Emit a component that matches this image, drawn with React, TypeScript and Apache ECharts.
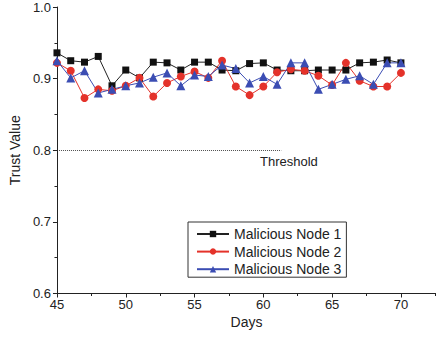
import React, { useEffect, useRef } from "react";
import * as echarts from "echarts";

const days = [45,46,47,48,49,50,51,52,53,54,55,56,57,58,59,60,61,62,63,64,65,66,67,68,69,70];
const node1 = [0.936,0.925,0.923,0.931,0.890,0.912,0.901,0.923,0.922,0.912,0.923,0.923,0.912,0.911,0.921,0.922,0.912,0.911,0.911,0.912,0.912,0.912,0.922,0.923,0.926,0.922];
const node2 = [0.922,0.911,0.873,0.885,0.883,0.890,0.901,0.875,0.894,0.903,0.910,0.901,0.925,0.889,0.877,0.889,0.909,0.913,0.911,0.904,0.891,0.922,0.897,0.889,0.889,0.908];
const node3 = [0.925,0.901,0.911,0.880,0.885,0.890,0.894,0.902,0.908,0.890,0.905,0.903,0.919,0.914,0.894,0.903,0.892,0.922,0.922,0.885,0.892,0.899,0.904,0.892,0.922,0.922];
const seriesNames = ["Malicious Node 1", "Malicious Node 2", "Malicious Node 3"];
const xMajorTicks = [45, 50, 55, 60, 65, 70];
const xMinorTicks = [47.5, 52.5, 57.5, 62.5, 67.5, 72.5];
const thresholdValue = 0.8;
const thresholdStart = 45;
const thresholdEnd = 61.3;
const thresholdLabel = "Threshold";
const xTitle = "Days";
const yTitle = "Trust Value";

const FONT = "Liberation Sans, Arial, sans-serif";

export default function App() {
  const ref = useRef<HTMLDivElement>(null);
  useEffect(() => {
    if (!ref.current) return;
    const chart = echarts.init(ref.current, null, { renderer: "svg" });
    const mk = (vals: number[]) => days.map((d, i) => [d, vals[i]]);
    chart.setOption({
      animation: false,
      textStyle: { fontFamily: FONT },
      grid: { left: 53, top: 7, right: 0, bottom: 48.5, containLabel: false },
      xAxis: [
        {
          type: "value",
          min: 45,
          max: 72.55,
          name: xTitle,
          nameLocation: "middle",
          nameGap: 19,
          nameTextStyle: { fontSize: 14, color: "#222", fontFamily: FONT },
          axisLine: { lineStyle: { color: "#222", width: 1 } },
          axisTick: { show: true, length: 4, lineStyle: { color: "#222" }, customValues: xMajorTicks },
          axisLabel: {
            fontSize: 13,
            color: "#222",
            margin: 4,
            fontFamily: FONT,
            customValues: xMajorTicks,
          },
          splitLine: { show: false },
        },
        {
          type: "value",
          min: 45,
          max: 72.55,
          position: "bottom",
          axisLine: { show: false },
          axisTick: { show: true, length: 2.5, lineStyle: { color: "#222" }, customValues: xMinorTicks },
          axisLabel: { show: false },
          splitLine: { show: false },
        },
      ],
      yAxis: {
        type: "value",
        min: 0.6,
        max: 1.0,
        interval: 0.1,
        name: yTitle,
        nameLocation: "middle",
        nameGap: 31,
        nameTextStyle: { fontSize: 14, color: "#222", fontFamily: FONT },
        axisLine: { show: true, lineStyle: { color: "#222", width: 1 } },
        axisTick: { show: true, length: 4, lineStyle: { color: "#222" } },
        minorTick: { show: true, splitNumber: 2, length: 2.5, lineStyle: { color: "#222" } },
        axisLabel: {
          fontSize: 13,
          color: "#222",
          margin: 6,
          fontFamily: FONT,
          formatter: (v: number) => v.toFixed(1),
        },
        splitLine: { show: false },
      },
      legend: {
        orient: "vertical",
        left: 188,
        top: 222,
        padding: [5, 5, 1, 8],
        itemWidth: 32,
        itemHeight: 8,
        itemGap: 3.6,
        borderColor: "#333",
        borderWidth: 1,
        borderRadius: 0,
        textStyle: { fontSize: 14, color: "#222", fontFamily: FONT, padding: [0, 0, 0, 0] },
        data: seriesNames,
      },
      series: [
        {
          name: seriesNames[0],
          type: "line",
          data: mk(node1),
          symbol: "rect",
          symbolSize: 7,
          color: "#111",
          lineStyle: { width: 1, color: "#222" },
          markLine: {
            silent: true,
            symbol: "none",
            label: { show: false },
            lineStyle: { type: [1, 1], width: 0.8, color: "#222" },
            data: [[{ coord: [thresholdStart, thresholdValue] }, { coord: [thresholdEnd, thresholdValue] }]],
          },
        },
        {
          name: seriesNames[1],
          type: "line",
          data: mk(node2),
          symbol: "circle",
          symbolSize: 8,
          color: "#e4322a",
          lineStyle: { width: 1, color: "#e4322a" },
        },
        {
          name: seriesNames[2],
          type: "line",
          data: mk(node3),
          symbol: "triangle",
          symbolSize: 9,
          color: "#3b4db3",
          lineStyle: { width: 1, color: "#3b4db3" },
        },
      ],
      graphic: [
        {
          type: "text",
          left: 260,
          top: 155,
          style: { text: thresholdLabel, fontSize: 13, fill: "#222", fontFamily: FONT },
        },
      ],
    });
    return () => chart.dispose();
  }, []);
  return (
    <div
      ref={ref}
      style={{ position: "fixed", left: 0, top: 0, width: 436, height: 342, background: "#fff" }}
    />
  );
}
